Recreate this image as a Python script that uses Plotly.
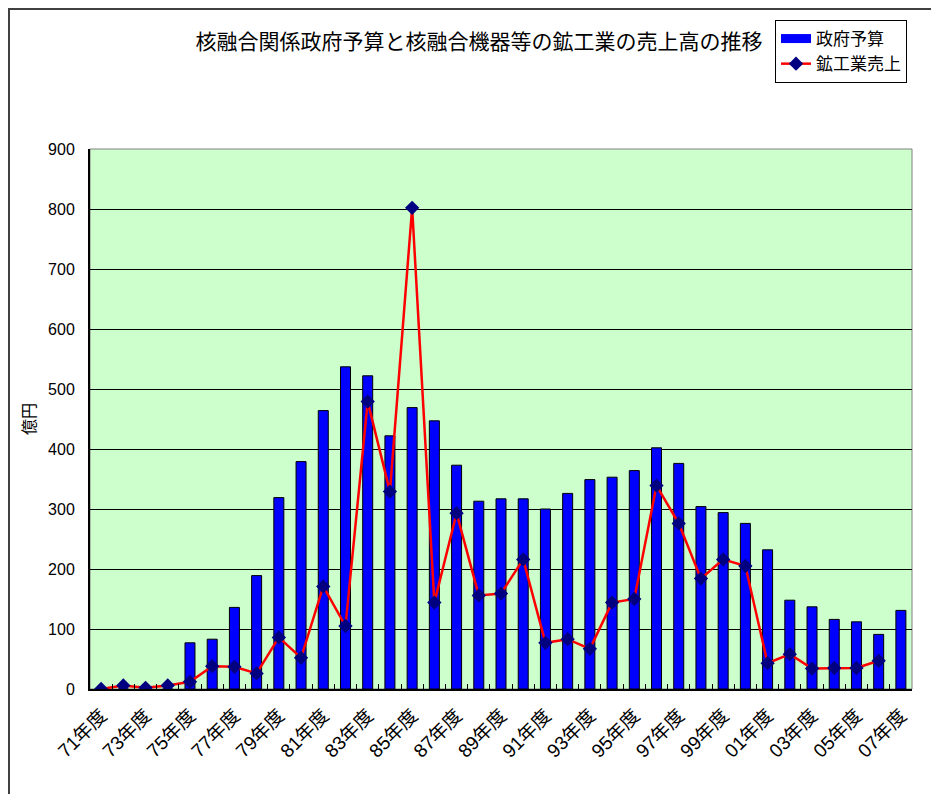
import plotly.graph_objects as go

categories = ["71年度", "72年度", "73年度", "74年度", "75年度", "76年度", "77年度", "78年度",
              "79年度", "80年度", "81年度", "82年度", "83年度", "84年度", "85年度", "86年度",
              "87年度", "88年度", "89年度", "90年度", "91年度", "92年度", "93年度", "94年度",
              "95年度", "96年度", "97年度", "98年度", "99年度", "00年度", "01年度", "02年度",
              "03年度", "04年度", "05年度", "06年度", "07年度"]

budget = [0, 0, 0, 0, 77, 83, 136, 189,
          319, 379, 464, 537, 522, 422, 469, 447,
          373, 313, 317, 317, 300, 326, 349, 353,
          364, 402, 376, 304, 294, 276, 232, 148,
          137, 116, 112, 91, 131]

sales = [0, 6, 2, 6, 12, 38, 37, 26,
         86, 52, 171, 105, 479, 329, 802, 144,
         293, 156, 159, 216, 77, 83, 67, 144,
         150, 339, 276, 184, 216, 205, 43, 58,
         34, 35, 35, 47, None]

tick_labels = [c if i % 2 == 0 else "" for i, c in enumerate(categories)]

title_text = "核融合関係政府予算と核融合機器等の鉱工業の売上高の推移"
y_title = "億円"
budget_name = "政府予算"
sales_name = "鉱工業売上"

JP = "Noto Sans CJK JP"

fig = go.Figure()
# legend swatch for the bars (wide rectangle like the original)
fig.add_trace(go.Scatter(
    x=[None], y=[None], mode="lines", name=budget_name, legendgroup="a",
    line=dict(color="#0000FF", width=9),
))
fig.add_trace(go.Bar(
    x=categories, y=budget, name=budget_name, showlegend=False,
    marker=dict(color="#0000FF", line=dict(color="#000000", width=1)),
))
fig.add_trace(go.Scatter(
    x=categories, y=sales, name=sales_name, mode="lines+markers", legendgroup="b",
    line=dict(color="#FF0000", width=2.5),
    marker=dict(symbol="diamond", size=11, color="#000080"),
))

# page body has an 8px margin: figure coords = screen coords - 8
OFF = 8
W, H = 939 - OFF, 794 - OFF
L, T = 90 - OFF, 149 - OFF
pw, ph = 822, 540
R, B = W - L - pw, H - T - ph

def px_x(sx):
    return (sx - OFF - L) / pw

def px_y(sy):
    return (T + ph - (sy - OFF)) / ph

fig.update_layout(
    width=W, height=H,
    margin=dict(l=L, r=R, t=T, b=B),
    paper_bgcolor="white",
    plot_bgcolor="#CCFFCC",
    bargap=0.55,
    showlegend=True,
    title=dict(text=title_text, x=(479 - OFF) / W, xanchor="center",
               y=1 - (42 - OFF) / H, yanchor="middle",
               font=dict(family=JP, size=21, color="#000000")),
    legend=dict(x=px_x(775), y=px_y(20), xanchor="left", yanchor="top",
                bordercolor="#000000", borderwidth=1, bgcolor="white",
                font=dict(family=JP, size=17, color="#000000"),
                tracegroupgap=0, itemwidth=30),
    font=dict(family="Liberation Sans, Arial, sans-serif", color="#000000"),
)

fig.update_xaxes(
    type="category", categoryorder="array", categoryarray=categories,
    range=[-0.5, len(categories) - 0.5],
    tickmode="array", tickvals=categories, ticktext=tick_labels,
    tickangle=-45, tickfont=dict(family="Liberation Sans, " + JP, size=19),
    tickson="boundaries", ticks="inside", ticklen=5, tickcolor="#000000",
    showline=True, linecolor="#000000", linewidth=2,
    showgrid=False, ticklabelstandoff=6,
)
fig.update_yaxes(
    range=[0, 900], dtick=100, tick0=0,
    showgrid=True, gridcolor="#000000", gridwidth=1,
    showline=True, linecolor="#000000", linewidth=2,
    ticks="", tickfont=dict(family="Liberation Sans, Arial", size=16),
    ticklabelstandoff=10, zeroline=False,
    title=dict(text=y_title, font=dict(family=JP, size=16), standoff=8),
)

# plot-area border (gray right edge) and the outer chart frame
fig.add_shape(type="rect", xref="x domain", yref="y domain", x0=0, x1=1, y0=0, y1=1,
              line=dict(color="#808080", width=1), layer="below")
fig.add_shape(type="rect", xref="paper", yref="paper",
              x0=px_x(9), x1=px_x(960),
              y0=px_y(820), y1=px_y(9),
              line=dict(color="#404040", width=2))

fig.write_html("out.html")
